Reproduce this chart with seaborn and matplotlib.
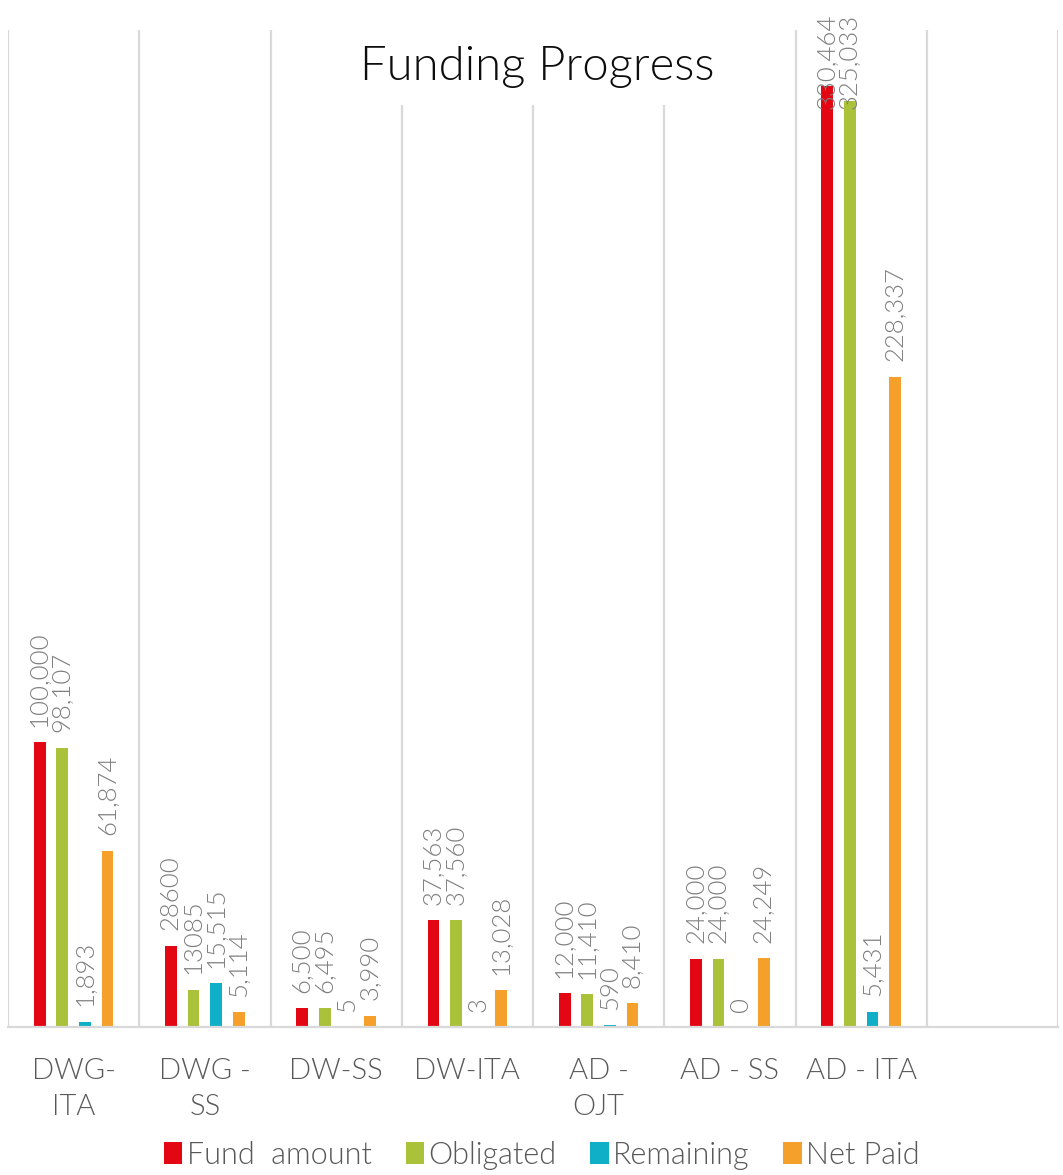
import numpy as np
import pandas as pd
import matplotlib
matplotlib.use("Agg")
import matplotlib.pyplot as plt
import seaborn as sns
from matplotlib.patches import Patch

# ---------------- data ----------------
categories = ["DWG-ITA", "DWG - SS", "DW-SS", "DW-ITA", "AD - OJT", "AD - SS", "AD - ITA"]
tick_labels = ["DWG-\nITA", "DWG -\nSS", "DW-SS", "DW-ITA", "AD -\nOJT", "AD - SS", "AD - ITA", ""]
series = ["Fund  amount", "Obligated", "Remaining", "Net Paid"]
fund_amount = [100000, 28600, 6500, 37563, 12000, 24000, 330464]
obligated = [98107, 13085, 6495, 37560, 11410, 24000, 325033]
remaining = [1893, 15515, 5, 3, 590, 0, 5431]
net_paid = [61874, 5114, 3990, 13028, 8410, 24249, 228337]
# labels shown without thousands separator in the original
plain_labels = {("DWG - SS", "Fund  amount"), ("DWG - SS", "Obligated")}
colors = ["#E30613", "#A9C23A", "#10AFC8", "#F4A02A"]

values = [fund_amount, obligated, remaining, net_paid]
df = pd.DataFrame({
    "category": [c for _ in series for c in categories],
    "series": [s for s in series for _ in categories],
    "value": [v for vals in values for v in vals],
})

# ---------------- style ----------------
sns.set_theme(style="white")
plt.rcParams["font.family"] = ["Lato", "DejaVu Sans"]
plt.rcParams["font.weight"] = 300

W, H = 1063, 1175
fig = plt.figure(figsize=(W / 100, H / 100), dpi=100)
ax = fig.add_axes([8 / W, 148 / H, 1050 / W, 997 / H])

order = categories + [""]
sns.barplot(data=df, x="category", y="value", hue="series", order=order,
            hue_order=series, palette=colors, saturation=1, errorbar=None,
            width=0.69, gap=0.48, linewidth=0, ax=ax, legend=False, zorder=3)

ax.set_xlim(-0.5, len(order) - 0.5)
ax.set_ylim(0, 350000)

grid_c = "#D9D9D9"
for b in np.arange(-0.5, len(order), 1.0):
    ax.axvline(b, color=grid_c, lw=1.6, zorder=1)
for s in ["top", "right", "left"]:
    ax.spines[s].set_visible(False)
ax.spines["bottom"].set_color(grid_c)
ax.spines["bottom"].set_linewidth(1.6)
ax.spines["bottom"].set_zorder(4)

ax.set_yticks([])
ax.set_ylabel("")
ax.set_xlabel("")
ax.set_xticks(range(len(order)))
ax.set_xticklabels(tick_labels, fontsize=21, color="#595959", linespacing=1.5,
                   fontweight=300)
ax.tick_params(axis="x", length=0, pad=22)

# data labels
label_cap = 317000
for si, (cont, s) in enumerate(zip(ax.containers, series)):
    for ci, bar in enumerate(cont):
        v = values[si][ci]
        cat = categories[ci]
        txt = f"{v}" if (cat, s) in plain_labels else f"{v:,}"
        x = bar.get_x() + bar.get_width() / 2
        ax.annotate(txt, (x, min(v, label_cap)), xytext=(0, 11),
                    textcoords="offset points", rotation=90, ha="center",
                    va="bottom", fontsize=18.5, color="#7F7F7F", fontweight=300,
                    annotation_clip=False, zorder=5)

# title with white backing (covers gridlines)
fig.text(537 / W, 1 - 67 / H, "Funding Progress", ha="center", va="center",
         fontsize=34, color="#0D0D0D", fontweight=300,
         bbox=dict(facecolor="white", edgecolor="none", pad=12))

handles = [Patch(facecolor=c, edgecolor="none") for c in colors]
leg = fig.legend(handles, series, loc="center", bbox_to_anchor=(542 / W, 1 - 1155 / H),
                 ncol=4, frameon=False, handlelength=0.6,
                 handleheight=0.75, handletextpad=0.15, columnspacing=1.1,
                 prop={"size": 22, "weight": 300})
for t in leg.get_texts():
    t.set_color("#595959")

fig.savefig("out.png", dpi=100)
